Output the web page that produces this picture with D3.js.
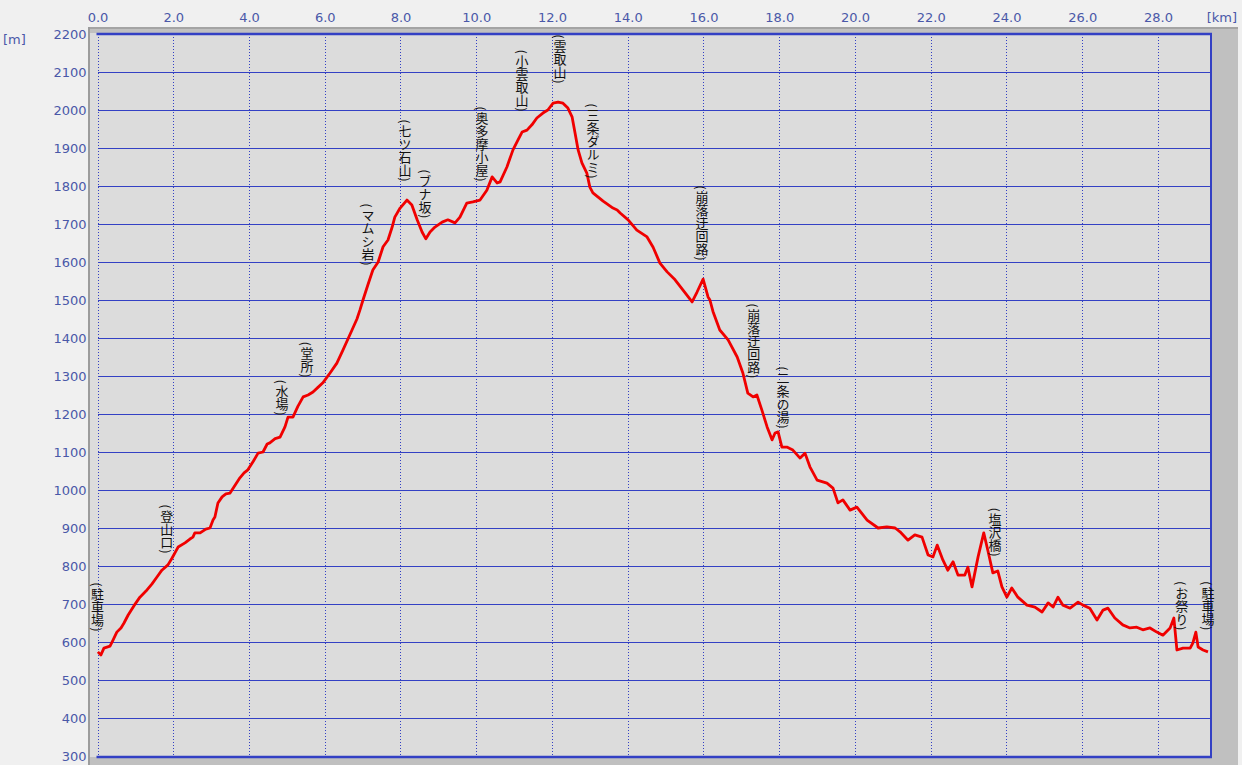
<!DOCTYPE html>
<html><head><meta charset="utf-8">
<script src="https://cdn.jsdelivr.net/npm/d3@7"></script>
<style>
html,body{margin:0;padding:0;background:#f0f0f0;overflow:hidden;}
svg{display:block;}
</style></head>
<body>
<svg id="chart" width="1242" height="765"></svg>
<script>
// ---- data ----
const distKm = [0.01,0.09,0.17,0.33,0.41,0.51,0.62,0.70,0.81,0.96,1.12,1.28,1.44,1.57,1.70,1.86,1.97,2.07,2.13,2.31,2.44,2.52,2.57,2.71,2.86,2.97,3.05,3.10,3.18,3.29,3.39,3.50,3.76,3.87,3.97,4.11,4.24,4.37,4.48,4.55,4.69,4.82,4.95,5.03,5.16,5.29,5.43,5.56,5.69,5.82,5.95,6.14,6.32,6.48,6.72,6.85,6.93,7.01,7.14,7.27,7.41,7.54,7.67,7.78,7.85,7.99,8.17,8.30,8.44,8.57,8.67,8.78,8.91,9.10,9.25,9.44,9.57,9.75,9.91,10.10,10.28,10.42,10.55,10.63,10.81,10.97,11.10,11.21,11.34,11.47,11.60,11.76,11.89,12.03,12.16,12.29,12.42,12.53,12.61,12.69,12.79,12.92,13.00,13.08,13.35,13.61,13.72,13.80,14.01,14.24,14.51,14.67,14.85,15.04,15.25,15.46,15.70,15.83,15.99,16.12,16.17,16.25,16.43,16.65,16.89,17.04,17.17,17.31,17.41,17.54,17.68,17.81,17.89,17.97,18.07,18.20,18.36,18.55,18.68,18.81,19.00,19.26,19.42,19.55,19.68,19.87,20.05,20.32,20.61,20.84,21.06,21.19,21.40,21.58,21.77,21.93,22.06,22.17,22.32,22.45,22.59,22.72,22.90,22.98,23.09,23.25,23.40,23.51,23.64,23.77,23.88,24.01,24.14,24.30,24.54,24.75,24.94,25.10,25.23,25.36,25.49,25.68,25.89,26.02,26.20,26.39,26.55,26.68,26.86,27.07,27.26,27.44,27.60,27.79,27.97,28.13,28.32,28.42,28.50,28.66,28.85,28.92,29.00,29.06,29.19,29.32];
const elevM = [574,566,584,589,605,626,637,650,671,695,718,734,753,771,789,803,821,839,850,861,871,876,887,887,897,900,921,929,966,982,990,992,1032,1045,1053,1075,1097,1100,1121,1124,1135,1139,1166,1192,1192,1220,1245,1250,1258,1270,1282,1308,1334,1368,1421,1450,1474,1500,1540,1579,1600,1640,1658,1692,1718,1742,1763,1750,1711,1679,1661,1679,1692,1705,1711,1703,1718,1755,1758,1763,1789,1824,1808,1811,1850,1895,1921,1942,1947,1961,1979,1992,2000,2018,2021,2018,2005,1982,1939,1895,1861,1834,1797,1782,1760,1742,1737,1729,1711,1684,1666,1639,1597,1574,1553,1526,1495,1521,1555,1508,1500,1470,1421,1395,1350,1308,1255,1245,1250,1211,1166,1132,1150,1153,1113,1113,1105,1084,1097,1061,1026,1018,1005,966,974,947,955,921,900,903,900,890,868,882,876,829,824,855,816,789,811,776,776,797,745,824,887,840,782,787,745,718,742,718,697,692,679,703,692,718,697,689,705,697,689,658,684,689,663,645,637,639,632,637,626,618,637,663,579,584,584,597,626,587,579,574];

const waypointNames = ["駐車場","登山口","水場","堂所","マムシ岩","七ツ石山","ブナ坂","奥多摩小屋","小雲取山","雲取山","三条ダルミ","崩落迂回路","崩落迂回路","二条の湯","塩沢橋","お祭り","駐車場"];
const waypointKm = [0.0,1.83,4.87,5.53,7.14,8.12,8.65,10.15,11.21,12.21,13.08,15.96,17.33,18.10,23.70,28.63,29.32];
const waypointElev = [579,784,1147,1247,1542,1763,1666,1763,1947,2021,1771,1555,1245,1113,776,582,582];

const xTicks = [0,2,4,6,8,10,12,14,16,18,20,22,24,26,28];
const yTicks = [300,400,500,600,700,800,900,1000,1100,1200,1300,1400,1500,1600,1700,1800,1900,2000,2100,2200];

// ---- layout ----
const svg = d3.select("#chart");
const L = 97.5, R = 1211, T = 34, B = 756;
const x = d3.scaleLinear().domain([0, 29.4]).range([L, R]);
const y = d3.scaleLinear().domain([300, 2200]).range([B, T]);
const axisColor = "#4a58a8";
const gridColor = "#3340c4";
const font = "'DejaVu Sans', Verdana, sans-serif";

// frame
svg.append("rect").attr("x",88).attr("y",27).attr("width",1150).attr("height",740).attr("fill","#c0c0c0");
svg.append("rect").attr("x",88).attr("y",27).attr("width",1150).attr("height",2).attr("fill","#a4a4a4");
svg.append("rect").attr("x",88).attr("y",27).attr("width",2).attr("height",740).attr("fill","#9c9c9c");
svg.append("rect").attr("x",90).attr("y",33).attr("width",R-90).attr("height",B-33+1).attr("fill","#dcdcdc");

// y axis + horizontal gridlines
const yAxis = d3.axisLeft(y).tickValues(yTicks).tickFormat(d3.format("d"))
  .tickSizeInner(-(R - L)).tickSizeOuter(0).tickPadding(11);
const gy = svg.append("g").attr("transform",`translate(${L},0)`).call(yAxis);
gy.select(".domain").remove();
gy.selectAll(".tick line").attr("stroke",gridColor).attr("stroke-width",1)
  .attr("shape-rendering","crispEdges");
gy.selectAll(".tick text").attr("fill",axisColor).style("font-family",font).style("font-size","13px");

// x axis + vertical dotted gridlines
const xAxis = d3.axisTop(x).tickValues(xTicks).tickFormat(d3.format(".1f"))
  .tickSizeInner(-(B - T)).tickSizeOuter(0).tickPadding(12);
const gx = svg.append("g").attr("transform",`translate(0,${T})`).call(xAxis);
gx.select(".domain").remove();
gx.selectAll(".tick line").attr("stroke",gridColor).attr("stroke-width",1)
  .attr("stroke-dasharray","1,2").attr("shape-rendering","crispEdges");
gx.selectAll(".tick text").attr("fill",axisColor).style("font-family",font).style("font-size","13px");

// borders
svg.append("line").attr("x1",L-1).attr("x2",R+1).attr("y1",T).attr("y2",T).attr("stroke",gridColor).attr("stroke-width",2.5);
svg.append("line").attr("x1",L-1).attr("x2",R+1).attr("y1",B+1).attr("y2",B+1).attr("stroke",gridColor).attr("stroke-width",2.5);
svg.append("line").attr("x1",R).attr("x2",R).attr("y1",T).attr("y2",B+2).attr("stroke",gridColor).attr("stroke-width",2);

// unit labels
svg.append("text").attr("x",3).attr("y",44).text("[m]").attr("fill",axisColor).style("font-family",font).style("font-size","13px");
svg.append("text").attr("x",1237).attr("y",22).attr("text-anchor","end").text("[km]").attr("fill",axisColor).style("font-family",font).style("font-size","13px");

// profile line
const pts = distKm.map((d,i)=>[d, elevM[i]]);
const line = d3.line().x(d=>x(d[0])).y(d=>y(d[1]));
svg.append("path").datum(pts).attr("d",line).attr("fill","none")
  .attr("stroke","#f00000").attr("stroke-width",2.8).attr("stroke-linejoin","round");

// waypoint annotations: vertical CJK text + rotated parentheses
const cell = 13, parenCell = 6.5;
const cjkFont = "'Noto Sans CJK JP', sans-serif";
const ann = svg.append("g").attr("fill","#111");
waypointNames.forEach((name, i) => {
  const cx = x(waypointKm[i]);
  const bottom = y(waypointElev[i]) - 17;
  const n = Array.from(name).length;
  const top = bottom - (n * cell + 2 * parenCell);
  ann.append("text").text("(")
    .attr("transform",`translate(${cx},${top + parenCell/2 + 0.3}) rotate(90)`)
    .attr("text-anchor","middle").attr("dominant-baseline","central")
    .style("font-family",cjkFont).style("font-size","12px");
  ann.append("text").text(name)
    .attr("x", cx).attr("y", top + parenCell)
    .attr("text-anchor","start")
    .style("writing-mode","vertical-rl")
    .style("font-family",cjkFont).style("font-size","13px");
  ann.append("text").text(")")
    .attr("transform",`translate(${cx},${bottom - parenCell/2 - 0.3}) rotate(90)`)
    .attr("text-anchor","middle").attr("dominant-baseline","central")
    .style("font-family",cjkFont).style("font-size","12px");
});
</script>
</body></html>
